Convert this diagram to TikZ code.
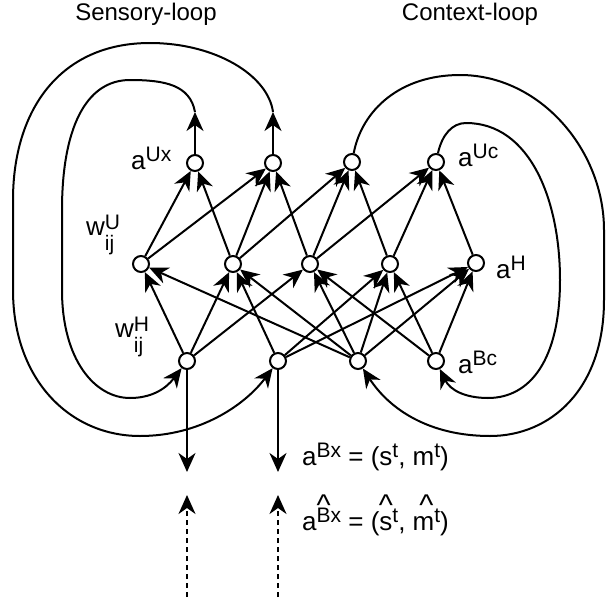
\documentclass[tikz,border=0pt]{standalone}
\usepackage{fontspec}
\setmainfont{Liberation Sans}
\usetikzlibrary{arrows.meta}
\newcommand{\supx}[1]{\raisebox{8pt}{\fontsize{21}{21}\selectfont #1}}
\newcommand{\wlbl}[1]{w\rlap{\raisebox{6pt}{\fontsize{21}{21}\selectfont #1}}\raisebox{-15pt}{\fontsize{21}{21}\selectfont ij}}
\newlength{\hatw}
\newcommand{\hatover}[1]{\settowidth{\hatw}{#1}\makebox[0pt][l]{\makebox[\hatw][c]{\raisebox{15pt}{\fontsize{30}{30}\selectfont\textasciicircum}}}#1}
\begin{document}
\begin{tikzpicture}[x=1pt,y=-1pt,
  neuron/.style={circle,draw,line width=2pt,minimum size=16pt,inner sep=0pt,fill=white},
  arr/.style={line width=2pt,-{Stealth[length=19pt,width=17pt,inset=6pt]}},
  lbl/.style={font=\fontsize{26}{26}\selectfont,inner sep=0pt,anchor=base west},
  ttl/.style={font=\fontsize{24}{24}\selectfont,inner sep=0pt,anchor=base}]
\useasboundingbox (0,0) rectangle (606,603);
% neurons
\node[neuron] (U1) at (195,163) {};
\node[neuron] (U2) at (273,163) {};
\node[neuron] (U3) at (352,162) {};
\node[neuron] (U4) at (436,162) {};
\node[neuron] (H1) at (141,264) {};
\node[neuron] (H2) at (233,264) {};
\node[neuron] (H3) at (310,264) {};
\node[neuron] (H4) at (390,264) {};
\node[neuron] (H5) at (476,263) {};
\node[neuron] (B1) at (187,361) {};
\node[neuron] (B2) at (278,361) {};
\node[neuron] (B3) at (358,361) {};
\node[neuron] (B4) at (436,361) {};
% hidden -> upper
\foreach \a/\b in {H1/U1,H1/U2,H2/U1,H2/U2,H2/U3,H3/U2,H3/U3,H3/U4,H4/U3,H4/U4,H5/U4}
  \draw[arr] (\a) -- (\b);
% bottom -> hidden
\foreach \a/\b in {B1/H1,B1/H2,B1/H3,B2/H2,B2/H4,B2/H5,B3/H1,B3/H2,B3/H3,B3/H4,B3/H5,B4/H3,B4/H4,B4/H5}
  \draw[arr] (\a) -- (\b);
% sensory loop
\coordinate (s1) at (195,112);
\coordinate (s2) at (273,112);
\draw[arr] (U1) -- (s1);
\draw[arr] (U2) -- (s2);
\draw[arr] (s1) .. controls (190,85) and (165,80) .. (130,80)
  .. controls (85,80) and (62,130) .. (62,210) -- (62,290)
  .. controls (62,360) and (95,398) .. (130,398)
  .. controls (150,398) and (165,390) .. (B1);
\draw[arr] (s2) .. controls (268,75) and (215,43) .. (150,43)
  .. controls (60,43) and (13,110) .. (13,200) -- (13,290)
  .. controls (13,380) and (70,436) .. (140,436)
  .. controls (200,436) and (245,405) .. (B2);
% context loop
\draw[arr] (U3) .. controls (362,110) and (400,75) .. (460,75)
  .. controls (540,75) and (604,150) .. (604,230) -- (604,300)
  .. controls (604,390) and (550,436) .. (490,436)
  .. controls (430,436) and (390,410) .. (B3);
\draw[arr] (U4) .. controls (442,135) and (452,123) .. (466,123)
  .. controls (530,123) and (560,200) .. (560,280)
  .. controls (560,360) and (530,398) .. (488,398)
  .. controls (465,398) and (450,390) .. (B4);
% outputs / inputs
\coordinate (o1) at (187,472);
\coordinate (o2) at (278,472);
\draw[arr] (B1) -- (o1);
\draw[arr] (B2) -- (o2);
\coordinate (d1s) at (187,597);
\coordinate (d1e) at (187,495);
\coordinate (d2s) at (278,597);
\coordinate (d2e) at (278,495);
\draw[arr,dash pattern=on 5pt off 4pt] (d1s) -- (d1e);
\draw[arr,dash pattern=on 5pt off 4pt] (d2s) -- (d2e);
% labels
\node[ttl] (t1) at (146,20) {Sensory-loop};
\node[ttl] (t2) at (470,20) {Context-loop};
\node[lbl] (lUx) at (131,169) {a\supx{Ux}};
\node[lbl] (lUc) at (458,166) {a\supx{Uc}};
\node[lbl] (lH) at (496,278) {a\supx{H}};
\node[lbl] (lBc) at (458,373) {a\supx{Bc}};
\node[lbl] (lwU) at (86,235) {\wlbl{U}};
\node[lbl] (lwH) at (115,337) {\wlbl{H}};
\node[lbl] (eq1) at (302,465) {a\supx{Bx} = (s\supx{t}, m\supx{t})};
\node[lbl] (eq2) at (302,530) {a\hatover{\supx{B}}\supx{x} = (\hatover{s}\supx{t}, \hatover{m\supx{t}})};
\end{tikzpicture}
\end{document}
